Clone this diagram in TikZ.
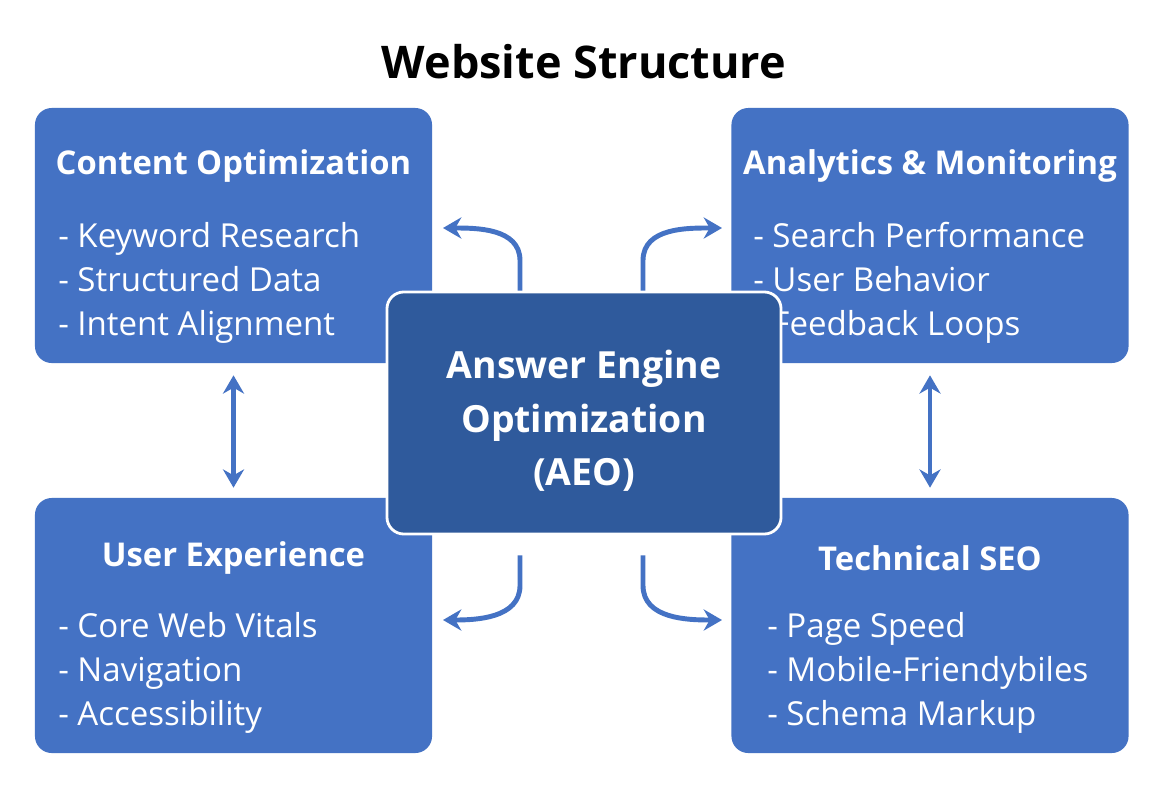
\documentclass[tikz,border=0pt]{standalone}
\usepackage{fontspec}
\setmainfont{Open Sans}
\usetikzlibrary{arrows.meta}
\definecolor{boxblue}{HTML}{4472C4}
\definecolor{aeoblue}{HTML}{2F5A9C}
\tikzset{
  panel/.style={fill=boxblue, rounded corners=12pt, minimum width=9.925cm, minimum height=6.375cm, inner sep=0pt},
  head/.style={text=white, font=\fontsize{23.3}{27}\selectfont\bfseries, inner sep=0pt},
  items/.style={text=white, font=\fontsize{23.5}{31.3}\selectfont, align=left, anchor=west, inner sep=0pt},
  link/.style={draw=boxblue, line width=3.5pt, -{Stealth[length=13pt,width=15pt]}},
  duplex/.style={draw=boxblue, line width=3.5pt, {Stealth[length=13pt,width=15pt]}-{Stealth[length=13pt,width=15pt]}}
}
\begin{document}
\begin{tikzpicture}[x=0.025cm, y=-0.025cm]
    \useasboundingbox (0,0) rectangle (1168,784);
    \fill[white] (0,0) rectangle (1168,784);
    \node (title) at (584,62) {\fontsize{32}{38}\selectfont\bfseries Website Structure};
    % four panels
    \node[panel] (content) at (233.5,235.5) {};
    \node[panel] (analytics) at (930,235.5) {};
    \node[panel] (ux) at (233.5,625.5) {};
    \node[panel] (tech) at (930,625.5) {};
    \node[head] (contenthead) at (233.5,166) {Content Optimization};
    \node[head] (analyticshead) at (930,166) {Analytics \& Monitoring};
    \node[head] (uxhead) at (233.5,558) {User Experience};
    \node[head] (techhead) at (930,558) {Technical SEO};
    \node[items] (contentlist) at (58,283) {- Keyword Research\\- Structured Data\\- Intent Alignment};
    \node[items] (analyticslist) at (753,283) {- Search Performance\\- User Behavior\\- Feedback Loops};
    \node[items] (uxlist) at (58,673) {- Core Web Vitals\\- Navigation\\- Accessibility};
    \node[items] (techlist) at (767,673) {- Page Speed\\- Mobile-Friendybiles\\- Schema Markup};
    % centre
    \node[fill=aeoblue, draw=white, line width=2pt, rounded corners=12pt, minimum width=9.85cm, minimum height=6.05cm,
          text=white, align=center, font=\fontsize{26.6}{38}\selectfont\bfseries] (aeo) at (584,413) {};
    \node[text=white, align=center, font=\fontsize{26.6}{38}\selectfont\bfseries] (aeotext) at (584,421) {Answer Engine\\Optimization\\(AEO)};
    % connectors
    \coordinate (c1) at (443,228);
    \coordinate (c2) at (722,228);
    \coordinate (c3) at (443,620);
    \coordinate (c4) at (722,620);
    \draw[link] (aeo.north -| 520,0) -- ++(0,-30) to[out=90,in=0] (c1);
    \draw[link] (aeo.north -| 643,0) -- ++(0,-30) to[out=90,in=180] (c2);
    \draw[link] (aeo.south -| 520,0) ++(0,20) -- ++(0,30) to[out=-90,in=0] (c3);
    \draw[link] (aeo.south -| 643,0) ++(0,20) -- ++(0,30) to[out=-90,in=180] (c4);
    \draw[duplex] ([yshift=-0.3cm]content.south) -- ([yshift=0.25cm]ux.north);
    \draw[duplex] ([yshift=-0.3cm]analytics.south) -- ([yshift=0.25cm]tech.north);
\end{tikzpicture}
\end{document}
